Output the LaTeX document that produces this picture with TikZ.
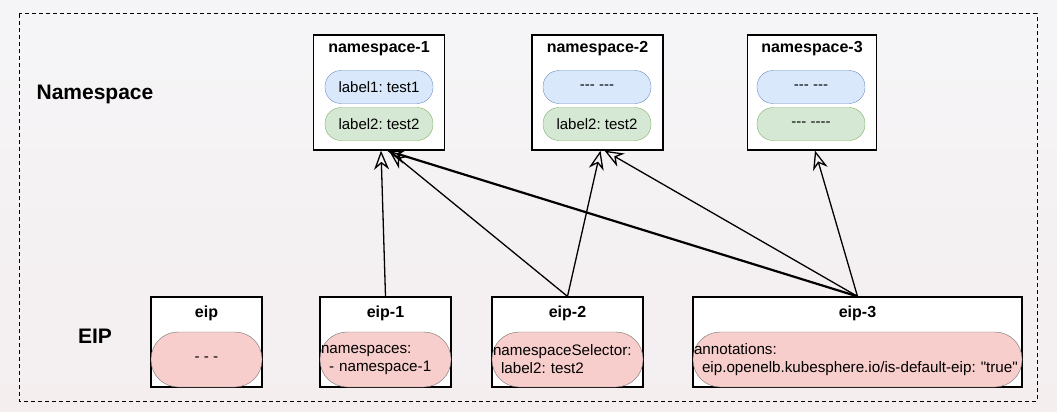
\documentclass[tikz,border=0pt]{standalone}
\usepackage{fontspec}
\setmainfont{Liberation Sans}[Ligatures=TeXOff]
\usetikzlibrary{arrows.meta,positioning}
\definecolor{BlueFill}{HTML}{DAE8FC}
\definecolor{BlueLine}{HTML}{6C8EBF}
\definecolor{GreenFill}{HTML}{D5E8D4}
\definecolor{GreenLine}{HTML}{82B366}
\definecolor{PinkFill}{HTML}{F8CECC}
\definecolor{PinkLine}{HTML}{707070}
\definecolor{BgTop}{HTML}{F5F5F7}
\definecolor{BgLow}{HTML}{F4EEEF}
\frenchspacing

\begin{document}
\begin{tikzpicture}[x=1pt,y=-1pt,>={Stealth[open,length=19pt,width=15pt,inset=6pt]},
    box/.style={draw,fill=white,line width=1.2pt,inner sep=0pt},
    head/.style={font=\fontsize{16}{19}\selectfont\bfseries},
    pill/.style={rounded corners=16pt,minimum width=108pt,minimum height=33pt,inner sep=0pt,font=\fontsize{15}{18}\selectfont},
    eippill/.style={draw=PinkLine,fill=PinkFill,rounded corners=27pt,minimum height=55pt,inner xsep=1pt,inner ysep=0pt,align=left,font=\fontsize{15.2}{18}\selectfont},
    link/.style={->,line width=1.3pt}]
    \useasboundingbox[top color=BgTop,bottom color=BgLow] (0,0) rectangle (1057,412);
    \draw[dashed,dash pattern=on 4pt off 3pt,line width=1pt] (19,14) rectangle (1037,401);
    % row labels
    \node[font=\fontsize{21}{25}\selectfont\bfseries] (nslabel) at (95,94) {Namespace};
    \node[font=\fontsize{21}{25}\selectfont\bfseries] (eiplabel) at (95,336) {EIP};
    % namespaces
    \node[box,minimum width=131pt,minimum height=115pt] (ns1) at (379,92.5) {};
    \node[head] at (379,49) {namespace-1};
    \node[pill,draw=BlueLine,fill=BlueFill] (ns1a) at (379,87) {label1: test1};
    \node[pill,draw=GreenLine,fill=GreenFill] (ns1b) at (379,124) {label2: test2};
    \node[box,minimum width=131pt,minimum height=115pt] (ns2) at (597.5,92.5) {};
    \node[head] at (597.5,49) {namespace-2};
    \node[pill,draw=BlueLine,fill=BlueFill] (ns2a) at (597,87) {--- ---};
    \node[pill,draw=GreenLine,fill=GreenFill] (ns2b) at (597,124) {label2: test2};
    \node[box,minimum width=129pt,minimum height=115pt] (ns3) at (812,92.5) {};
    \node[head] at (812,49) {namespace-3};
    \node[pill,draw=BlueLine,fill=BlueFill] (ns3a) at (811,87) {--- ---};
    \node[pill,draw=GreenLine,fill=GreenFill] (ns3b) at (811,124) {--- ----};
    % eips
    \node[box,minimum width=111pt,minimum height=90pt] (eip0) at (206.5,342) {};
    \node[head] at (206.5,313) {eip};
    \node[eippill,minimum width=111pt,align=center] (eip0p) at (206.5,359.5) {- - -};
    \node[box,minimum width=131pt,minimum height=90pt] (eip1) at (385.5,342) {};
    \node[head] at (385.5,313) {eip-1};
    \node[eippill,text width=129pt] (eip1p) at (385.5,359.5) {namespaces:\\\hspace*{8pt}- namespace-1};
    \node[box,minimum width=151pt,minimum height=90pt] (eip2) at (567.5,342) {};
    \node[head] at (567.5,313) {eip-2};
    \node[eippill,text width=149pt] (eip2p) at (567.5,359.5) {namespaceSelector:\\\hspace*{8pt}label2: test2};
    \node[box,minimum width=329pt,minimum height=90pt] (eip3) at (857.5,342) {};
    \node[head] at (857.5,313) {eip-3};
    \node[eippill,text width=327pt] (eip3p) at (857.5,359.5) {annotations:\\\hspace*{8pt}eip.openelb.kubesphere.io/is-default-eip: "true"};
    % selections
    \draw[link] (eip1.north) -- ([xshift=2pt]ns1.south);
    \draw[link] (eip2.north) -- ([xshift=10pt]ns1.south);
    \draw[link] (eip2.north) -- ([xshift=3pt]ns2.south);
    \draw[link,line width=2.2pt] (eip3.north) -- ([xshift=8pt]ns1.south);
    \draw[link] (eip3.north) -- ([xshift=7pt]ns2.south);
    \draw[link] (eip3.north) -- ([xshift=3pt]ns3.south);
\end{tikzpicture}
\end{document}
